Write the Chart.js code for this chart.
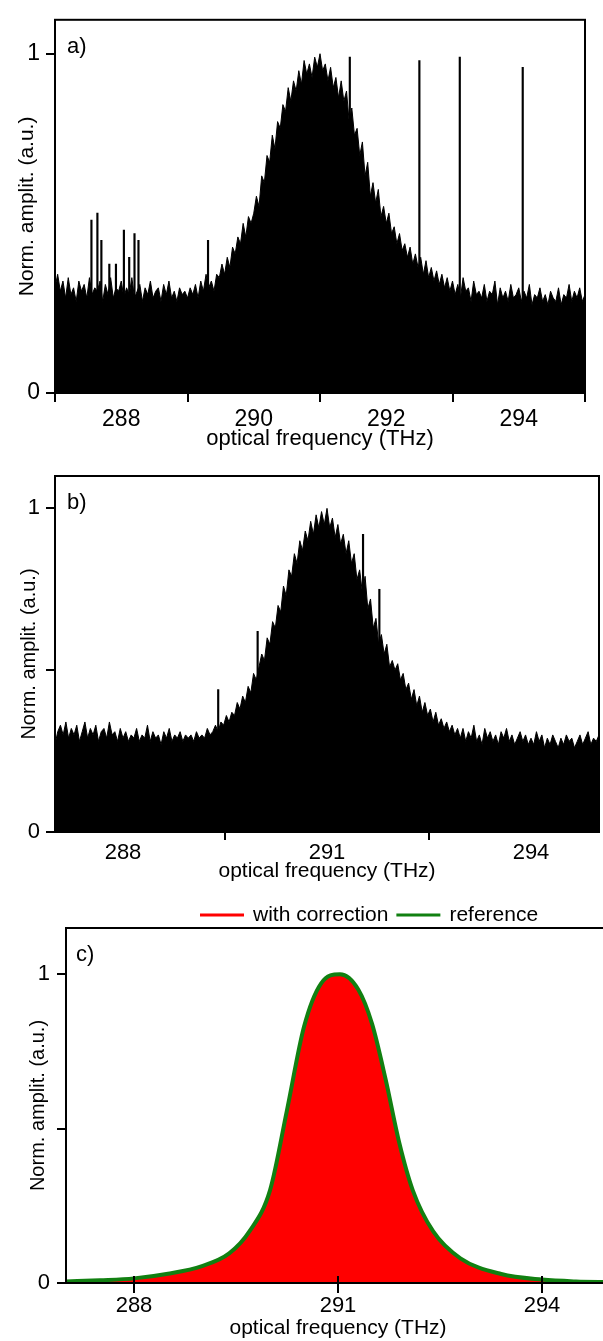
<!DOCTYPE html>
<html>
<head>
<meta charset="utf-8">
<script src="https://cdn.jsdelivr.net/npm/chart.js@4.4.1/dist/chart.umd.min.js"></script>
<style>
  html, body { margin: 0; padding: 0; background: #fff; overflow: hidden; width: 603px; height: 1341px; }
  canvas { position: absolute; left: 0; }
  #cvA { top: 0; }
  #cvB { top: 452px; }
  #cvC { top: 887px; }
</style>
</head>
<body>
<canvas id="cvA" width="603" height="452"></canvas>
<canvas id="cvB" width="603" height="435"></canvas>
<canvas id="cvC" width="734" height="454"></canvas>
<script>
// sampled spectra, 287.00 .. 295.00 THz, step 0.04 THz
var freqStart = 287;
var freqStep = 0.04;

var specA = [
  0.31,0.35,0.30,0.33,0.28,0.34,0.29,0.31,0.27,0.33,0.30,0.32,0.28,0.34,0.29,0.31,0.30,0.33,0.27,0.32,0.29,0.34,0.28,0.31,0.30,
  0.33,0.28,0.31,0.29,0.34,0.28,0.30,0.32,0.27,0.31,0.29,0.33,0.28,0.30,0.31,0.27,0.32,0.29,0.33,0.28,0.30,0.27,0.31,0.29,0.30,
  0.28,0.31,0.29,0.32,0.28,0.33,0.30,0.35,0.31,0.33,0.30,0.35,0.34,0.38,0.35,0.40,0.37,0.43,0.41,0.46,0.44,0.50,0.46,0.52,0.50,
  0.53,0.58,0.55,0.64,0.62,0.70,0.68,0.76,0.72,0.80,0.78,0.85,0.83,0.90,0.86,0.92,0.89,0.95,0.91,0.98,0.94,0.97,0.93,0.99,0.96,
  1.00,0.95,0.97,0.92,0.96,0.90,0.93,0.87,0.92,0.86,0.89,0.80,0.84,0.76,0.78,0.70,0.74,0.64,0.68,0.58,0.62,0.56,0.60,0.52,0.55,
  0.50,0.53,0.47,0.49,0.44,0.47,0.42,0.44,0.40,0.43,0.38,0.41,0.37,0.40,0.35,0.39,0.34,0.37,0.33,0.36,0.32,0.35,0.31,0.34,0.30,
  0.33,0.29,0.32,0.28,0.34,0.30,0.31,0.27,0.33,0.29,0.30,0.28,0.32,0.27,0.30,0.29,0.33,0.26,0.31,0.28,0.30,0.27,0.32,0.28,0.29,
  0.31,0.27,0.30,0.28,0.32,0.26,0.29,0.28,0.31,0.27,0.29,0.26,0.30,0.28,0.27,0.31,0.26,0.29,0.28,0.32,0.27,0.30,0.28,0.31,0.27,0.29
];
var spikeFreqA = [287.55, 287.64, 287.70, 287.82, 287.92, 288.04, 288.12, 288.20, 288.26, 289.31, 291.45, 292.50, 293.11, 294.06];
var spikeAmpA  = [0.51, 0.53, 0.45, 0.38, 0.38, 0.48, 0.40, 0.47, 0.45, 0.45, 0.99, 0.98, 0.99, 0.96];

var specB = [
  0.27,0.31,0.33,0.30,0.34,0.29,0.32,0.30,0.33,0.28,0.31,0.34,0.29,0.32,0.30,0.33,0.28,0.31,0.32,0.29,0.34,0.30,0.31,0.28,0.32,
  0.29,0.31,0.28,0.30,0.29,0.32,0.28,0.30,0.29,0.33,0.28,0.31,0.29,0.30,0.27,0.31,0.29,0.32,0.28,0.30,0.29,0.31,0.28,0.30,0.29,
  0.30,0.28,0.31,0.29,0.30,0.29,0.32,0.30,0.31,0.33,0.31,0.34,0.33,0.36,0.34,0.37,0.36,0.40,0.38,0.42,0.40,0.45,0.43,0.49,0.47,
  0.51,0.55,0.53,0.60,0.58,0.65,0.63,0.70,0.68,0.76,0.73,0.81,0.79,0.86,0.83,0.90,0.87,0.93,0.90,0.96,0.92,0.98,0.94,0.99,0.95,
  1.00,0.94,0.97,0.91,0.95,0.89,0.92,0.86,0.90,0.83,0.86,0.78,0.81,0.74,0.79,0.69,0.72,0.63,0.66,0.58,0.61,0.55,0.58,0.51,0.53,
  0.50,0.52,0.47,0.49,0.44,0.46,0.41,0.44,0.39,0.42,0.37,0.40,0.36,0.38,0.34,0.37,0.33,0.35,0.32,0.34,0.31,0.33,0.30,0.32,0.29,
  0.32,0.28,0.31,0.29,0.33,0.28,0.30,0.27,0.32,0.29,0.31,0.28,0.30,0.27,0.31,0.29,0.32,0.28,0.30,0.27,0.29,0.31,0.28,0.30,0.27,
  0.29,0.27,0.31,0.28,0.30,0.26,0.29,0.27,0.30,0.28,0.26,0.29,0.27,0.30,0.28,0.29,0.26,0.28,0.30,0.27,0.29,0.31,0.27,0.29,0.28,0.30
];
var spikeFreqB = [289.40, 289.98, 291.53, 291.77];
var spikeAmpB  = [0.44, 0.62, 0.92, 0.75];

// panel c, smooth spectra
var freqC = [287.0, 287.5, 288.0, 288.5, 289.0, 289.4, 289.7, 290.0, 290.25, 290.5, 290.75, 291.03, 291.3, 291.5, 291.7, 291.9, 292.1, 292.4, 292.8, 293.4, 294.0, 294.5, 295.0];
var refC  = [0.005, 0.009, 0.015, 0.030, 0.055, 0.096, 0.168, 0.30, 0.56, 0.83, 0.97, 1.00, 0.95, 0.84, 0.66, 0.455, 0.30, 0.167, 0.080, 0.029, 0.011, 0.005, 0.003];
var corrC = [0.000, 0.002, 0.008, 0.024, 0.050, 0.092, 0.165, 0.30, 0.56, 0.83, 0.97, 1.00, 0.95, 0.84, 0.66, 0.455, 0.30, 0.165, 0.076, 0.025, 0.008, 0.003, 0.001];

var xTicksA = [288, 290, 292, 294];
var xTicksBC = [288, 291, 294];
var yTicksA = [0, 1];
var yTicksBC = [0, 0.5, 1];

var FONT = 'Arial, "Liberation Sans", sans-serif';

function toPoints(vals) {
  return vals.map(function(v, i) { return {x: freqStart + i * freqStep, y: v}; });
}
function pairs(xs, ys) {
  return xs.map(function(x, i) { return {x: x, y: ys[i]}; });
}

// frame + panel letter + optional legend
var framePlugin = {
  id: 'frame',
  afterDatasetsDraw: function(chart, args, opts) {
    var a = chart.chartArea, ctx = chart.ctx;
    ctx.save();
    ctx.strokeStyle = '#000';
    ctx.lineWidth = 2;
    ctx.strokeRect(a.left, a.top, a.right - a.left, a.bottom - a.top);
    if (opts.innerTicks) {
      var xs = chart.scales.x;
      xs.ticks.forEach(function(t) {
        var px = xs.getPixelForValue(t.value);
        ctx.beginPath();
        ctx.moveTo(px, a.bottom);
        ctx.lineTo(px, a.bottom - 7);
        ctx.stroke();
      });
    }
    ctx.fillStyle = '#000';
    ctx.font = '22px ' + FONT;
    ctx.textBaseline = 'top';
    ctx.fillText(opts.label, a.left + opts.dx, a.top + 16);
    if (opts.legendY) {
      ctx.font = '21px ' + FONT;
      ctx.textBaseline = 'middle';
      var x = opts.legendX;
      var items = chart.data.datasets.slice().sort(function(p, q) { return q.order - p.order; });
      items.forEach(function(ds) {
        ctx.strokeStyle = ds.legendColor;
        ctx.lineWidth = 3;
        ctx.beginPath();
        ctx.moveTo(x, opts.legendY);
        ctx.lineTo(x + 44, opts.legendY);
        ctx.stroke();
        x += 53;
        ctx.fillText(ds.label, x, opts.legendY);
        x += ctx.measureText(ds.label).width + 8;
      });
    }
    ctx.restore();
  }
};

function makeOptions(p) {
  return {
    responsive: false,
    animation: false,
    devicePixelRatio: 1,
    layout: { padding: p.padding },
    plugins: {
      legend: { display: false },
      tooltip: { enabled: false },
      frame: p.frame
    },
    scales: {
      x: {
        type: 'linear',
        min: 287, max: 295,
        offset: false,
        afterFit: function(s) { s.height = p.xHeight; },
        afterBuildTicks: function(s) { s.ticks = p.xTicks.map(function(v) { return {value: v}; }); },
        grid: { drawOnChartArea: false, drawTicks: true, tickLength: p.xTickLen, color: '#000', lineWidth: 2 },
        border: { display: true, color: '#000', width: 2 },
        ticks: { color: '#000', font: { size: p.tickSize, family: FONT }, padding: p.xTickPad, maxRotation: 0 },
        title: { display: true, text: 'optical frequency (THz)', color: '#000', font: { size: p.xTitleSize, family: FONT }, padding: { top: 0, bottom: p.xTitlePad } }
      },
      y: {
        min: 0, max: p.yMax,
        afterFit: function(s) { s.width = p.yWidth; },
        afterBuildTicks: function(s) { s.ticks = p.yTicks.map(function(v) { return {value: v}; }); },
        grid: { drawOnChartArea: false, drawTicks: true, tickLength: 9, color: '#000', lineWidth: 2 },
        border: { display: true, color: '#000', width: 2 },
        ticks: {
          color: '#000', font: { size: p.tickSize, family: FONT }, padding: p.yTickPad,
          callback: function(v) { return (v === 0 || v === 1) ? String(v) : ''; }
        },
        title: { display: true, text: 'Norm. amplit. (a.u.)', color: '#000', font: { size: p.yTitleSize, family: FONT }, padding: { top: p.yTitlePad, bottom: 0 } }
      }
    }
  };
}

function noisyDatasets(spec, sf, sa) {
  return [
    {
      type: 'line', label: 'spectrum', data: toPoints(spec),
      borderColor: '#000', backgroundColor: '#000', borderWidth: 1,
      fill: 'origin', pointRadius: 0, tension: 0
    },
    {
      type: 'bar', label: 'lines', data: pairs(sf, sa),
      backgroundColor: '#000', barThickness: 1.5, grouped: false
    }
  ];
}

new Chart(document.getElementById('cvA'), {
  type: 'line',
  data: { datasets: noisyDatasets(specA, spikeFreqA, spikeAmpA) },
  options: makeOptions({
    padding: { top: 15, right: 18, left: 0, bottom: 0 },
    xHeight: 59, yWidth: 55, yMax: 1.10,
    xTicks: xTicksA, yTicks: yTicksA,
    tickSize: 23, xTitleSize: 22, yTitleSize: 21,
    xTickLen: 9, xTickPad: 4, xTitlePad: 0,
    yTickPad: 6, yTitlePad: 15,
    frame: { label: 'a)', dx: 12 }
  }),
  plugins: [framePlugin]
});

new Chart(document.getElementById('cvB'), {
  type: 'line',
  data: { datasets: noisyDatasets(specB, spikeFreqB, spikeAmpB) },
  options: makeOptions({
    padding: { top: 24, right: 4, left: 0, bottom: 0 },
    xHeight: 55, yWidth: 55, yMax: 1.10,
    xTicks: xTicksBC, yTicks: yTicksBC,
    tickSize: 22, xTitleSize: 21, yTitleSize: 20,
    xTickLen: 8, xTickPad: 0, xTitlePad: 3,
    yTickPad: 6, yTitlePad: 17,
    frame: { label: 'b)', dx: 12 }
  }),
  plugins: [framePlugin]
});

new Chart(document.getElementById('cvC'), {
  type: 'line',
  data: {
    datasets: [
      {
        label: 'with correction', data: pairs(freqC, corrC), order: 1,
        borderColor: '#ff0000', backgroundColor: '#ff0000', legendColor: '#ff0000', borderWidth: 2,
        fill: 'origin', pointRadius: 0, cubicInterpolationMode: 'monotone'
      },
      {
        label: 'reference', data: pairs(freqC, refC), order: 0,
        borderColor: '#118011', backgroundColor: '#118011', legendColor: '#118011', borderWidth: 4,
        fill: false, pointRadius: 0, cubicInterpolationMode: 'monotone'
      }
    ]
  },
  options: makeOptions({
    padding: { top: 41, right: 124, left: 0, bottom: 0 },
    xHeight: 58, yWidth: 66, yMax: 1.15,
    xTicks: xTicksBC, yTicks: yTicksBC,
    tickSize: 22, xTitleSize: 21, yTitleSize: 20,
    xTickLen: 10, xTickPad: 0, xTitlePad: 0,
    yTickPad: 7, yTitlePad: 26,
    frame: { label: 'c)', dx: 10, innerTicks: true, legendY: 28, legendX: 200 }
  }),
  plugins: [framePlugin]
});
</script>
</body>
</html>
